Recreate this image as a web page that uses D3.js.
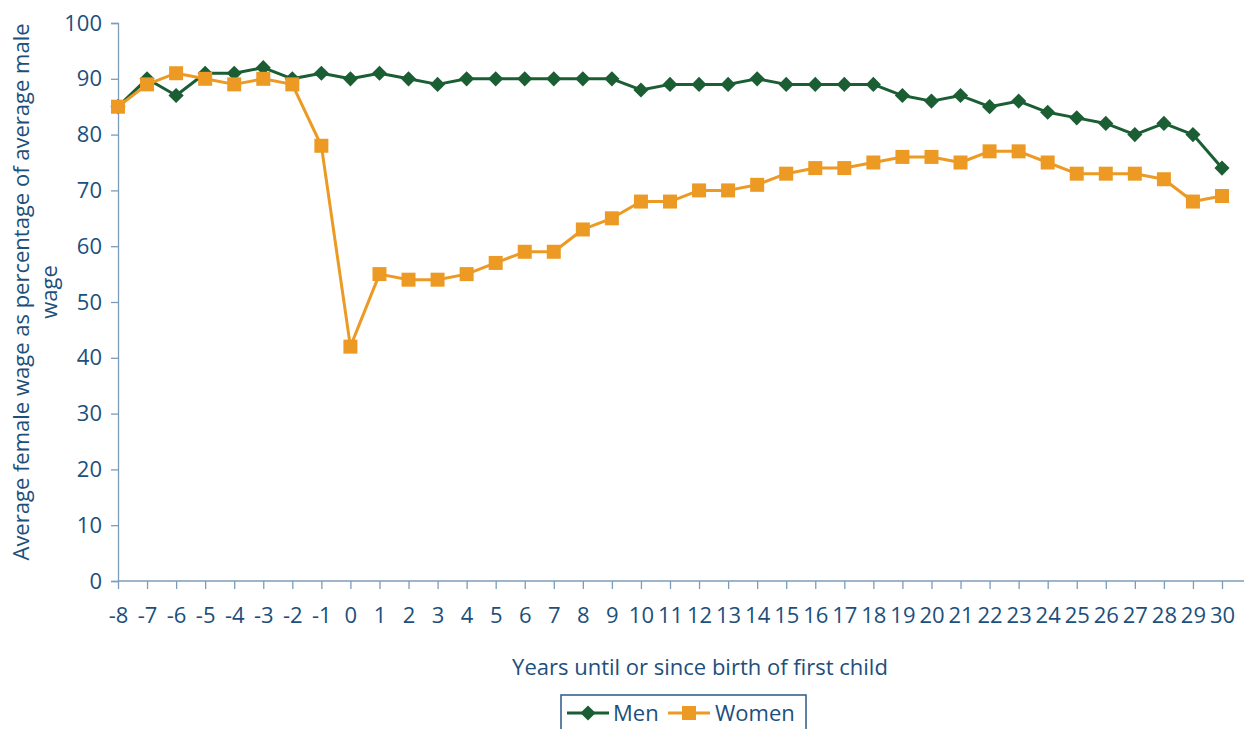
<!DOCTYPE html>
<html>
<head>
<meta charset="utf-8">
<script src="https://cdn.jsdelivr.net/npm/d3@7"></script>
<style>
  html, body { margin: 0; padding: 0; background: #fff; }
  svg { display: block; font-family: "Open Sans", "Noto Sans", sans-serif; }
</style>
</head>
<body>
<svg id="chart" width="1244" height="729"></svg>
<script>
// Years relative to the birth of the first child
const years = [-8,-7,-6,-5,-4,-3,-2,-1,0,1,2,3,4,5,6,7,8,9,10,11,12,13,14,15,16,17,18,19,20,21,22,23,24,25,26,27,28,29,30];

// Wage as a percentage of the average male wage
const menValues = [85,90,87,91,91,92,90,91,90,91,90,89,90,90,90,90,90,90,88,89,89,89,90,89,89,89,89,87,86,87,85,86,84,83,82,80,82,80,74];
const womenValues = [85,89,91,90,89,90,89,78,42,55,54,54,55,57,59,59,63,65,68,68,70,70,71,73,74,74,75,76,76,75,77,77,75,73,73,73,72,68,69];

const yTicks = [0,10,20,30,40,50,60,70,80,90,100];
const seriesNames = ["Men", "Women"];

const textColor = "#1c4f7c";
const axisColor = "#7c9cba";
const menColor = "#1b5e34";
const womenColor = "#ec9a23";

const svg = d3.select("#chart");
const plot = { left: 118, right: 1222, top: 23, bottom: 581, axisEnd: 1244 };

const x = d3.scalePoint().domain(years).range([plot.left, plot.right]);
const y = d3.scaleLinear().domain([0, 100]).range([plot.bottom, plot.top]);

// Y axis
const yAxis = svg.append("g")
  .attr("transform", `translate(${plot.left},0)`)
  .call(d3.axisLeft(y).tickValues(yTicks).tickSize(7).tickPadding(9));
yAxis.select(".domain").attr("stroke", axisColor).attr("stroke-width", 1.3);
yAxis.selectAll(".tick line").attr("stroke", axisColor).attr("stroke-width", 1.3);
yAxis.selectAll(".tick text").attr("fill", textColor).style("font-size", "22px");
yAxis.attr("font-family", null);

// X axis
const xAxis = svg.append("g")
  .attr("transform", `translate(0,${plot.bottom})`)
  .call(d3.axisBottom(x).tickSize(8).tickPadding(18).tickSizeOuter(0));
xAxis.select(".domain").attr("d", `M${plot.left},0H${plot.axisEnd}`)
  .attr("stroke", axisColor).attr("stroke-width", 1.3);
xAxis.selectAll(".tick line").attr("stroke", axisColor).attr("stroke-width", 1.3);
xAxis.selectAll(".tick text").attr("fill", textColor).style("font-size", "22px");
xAxis.attr("font-family", null);

// Axis titles
const yTitle = svg.append("text")
  .attr("transform", "translate(0,292) rotate(-90)")
  .attr("text-anchor", "middle")
  .attr("fill", textColor)
  .style("font-size", "22px");
yTitle.append("tspan").attr("x", 0).attr("y", 29).text("Average female wage as percentage of average male");
yTitle.append("tspan").attr("x", 0).attr("y", 57).text("wage");

svg.append("text")
  .attr("x", 700).attr("y", 675)
  .attr("text-anchor", "middle")
  .attr("fill", textColor)
  .style("font-size", "22px")
  .text("Years until or since birth of first child");

// Series: diamonds are squares turned by 45 degrees
const series = [
  { name: seriesNames[0], values: menValues, color: menColor, size: 115, rotate: 45 },
  { name: seriesNames[1], values: womenValues, color: womenColor, size: 196, rotate: 0 }
];

const line = d3.line().x(d => x(d.year)).y(d => y(d.value));

series.forEach(s => {
  const pts = years.map((yr, i) => ({ year: yr, value: s.values[i] }));
  svg.append("path")
    .datum(pts)
    .attr("fill", "none")
    .attr("stroke", s.color)
    .attr("stroke-width", 3)
    .attr("stroke-linejoin", "round")
    .attr("d", line);
  svg.append("g").selectAll("path")
    .data(pts)
    .join("path")
    .attr("transform", d => `translate(${x(d.year)},${y(d.value)}) rotate(${s.rotate})`)
    .attr("d", d3.symbol().type(d3.symbolSquare).size(s.size))
    .attr("fill", s.color);
});

// Legend
const legend = svg.append("g");
legend.append("rect")
  .attr("x", 561).attr("y", 695).attr("width", 245).attr("height", 40)
  .attr("fill", "#fff").attr("stroke", "#2a5a86").attr("stroke-width", 1.5);

const legendItems = [
  { s: series[0], lx: 567, tx: 613 },
  { s: series[1], lx: 668, tx: 715 }
];
legendItems.forEach(it => {
  const cy = 713;
  legend.append("line")
    .attr("x1", it.lx).attr("x2", it.lx + 42).attr("y1", cy).attr("y2", cy)
    .attr("stroke", it.s.color).attr("stroke-width", 3);
  legend.append("path")
    .attr("transform", `translate(${it.lx + 21},${cy}) rotate(${it.s.rotate})`)
    .attr("d", d3.symbol().type(d3.symbolSquare).size(it.s.size))
    .attr("fill", it.s.color);
  legend.append("text")
    .attr("x", it.tx).attr("y", cy + 8)
    .attr("fill", textColor)
    .style("font-size", "22px")
    .text(it.s.name);
});
</script>
</body>
</html>
